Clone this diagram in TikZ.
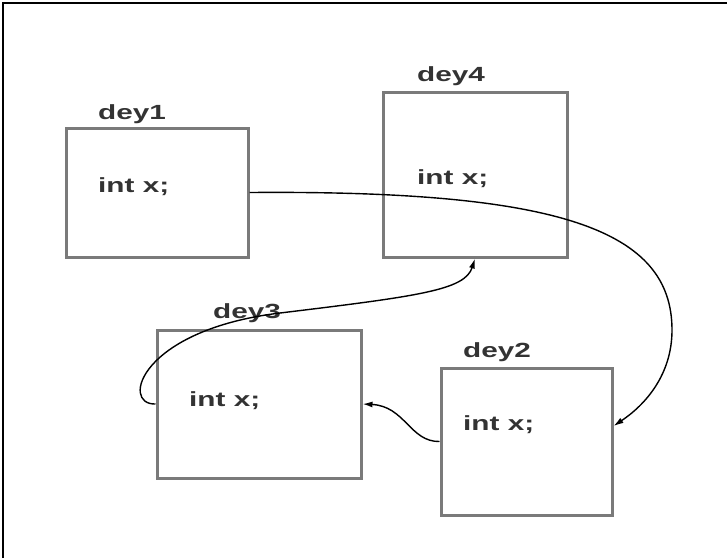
\documentclass[tikz,border=0pt]{standalone}
\usepackage{fontspec}
\setmainfont{Liberation Sans}
\usetikzlibrary{arrows.meta}
\definecolor{boxcol}{HTML}{7A7A7A}
\definecolor{txtcol}{HTML}{333333}
\newcommand{\widetext}[1]{\scalebox{1.45}[1]{#1}}
\begin{document}
\begin{tikzpicture}[x=1pt, y=-1pt,
  box/.style={draw=boxcol, line width=3pt, inner sep=0pt},
  lbl/.style={anchor=base west, inner sep=0pt, text=txtcol, font=\fontsize{20.5}{24}\selectfont\bfseries},
  link/.style={line width=1.4pt, -{Latex[length=10pt,width=6pt]}}]
\useasboundingbox (0,0) rectangle (727,558);
\draw[line width=1.5pt] (3,558) -- (3,3) -- (727,3);
\node[box, minimum width=182pt, minimum height=129pt] (dey1) at (157,192.5) {};
\node[lbl] (dey1name) at (98,119) {\widetext{dey1}};
\node[lbl] (dey1var) at (98,192) {\widetext{int x;}};
\node[box, minimum width=184pt, minimum height=165pt] (dey4) at (475,174.5) {};
\node[lbl] (dey4name) at (417,81) {\widetext{dey4}};
\node[lbl] (dey4var) at (417,184) {\widetext{int x;}};
\node[box, minimum width=204pt, minimum height=148pt] (dey3) at (259,404) {};
\node[lbl] (dey3name) at (213,318) {\widetext{dey3}};
\node[lbl] (dey3var) at (189,406) {\widetext{int x;}};
\node[box, minimum width=171pt, minimum height=147pt] (dey2) at (526.5,441.5) {};
\node[lbl] (dey2name) at (463,357) {\widetext{dey2}};
\node[lbl] (dey2var) at (463,430) {\widetext{int x;}};
\draw[link] (dey1.east) .. controls (560,190) and (672,230) .. (672,330) .. controls (672,375) and (645,405) .. ([yshift=15.5pt]dey2.east);
\draw[link] (dey2.west) .. controls (410,442) and (405,406) .. (dey3.east);
\draw[link] (dey3.west) .. controls (120,405) and (140,330) .. (280,313) .. controls (420,296) and (465,290) .. (dey4.south);
\end{tikzpicture}
\end{document}
